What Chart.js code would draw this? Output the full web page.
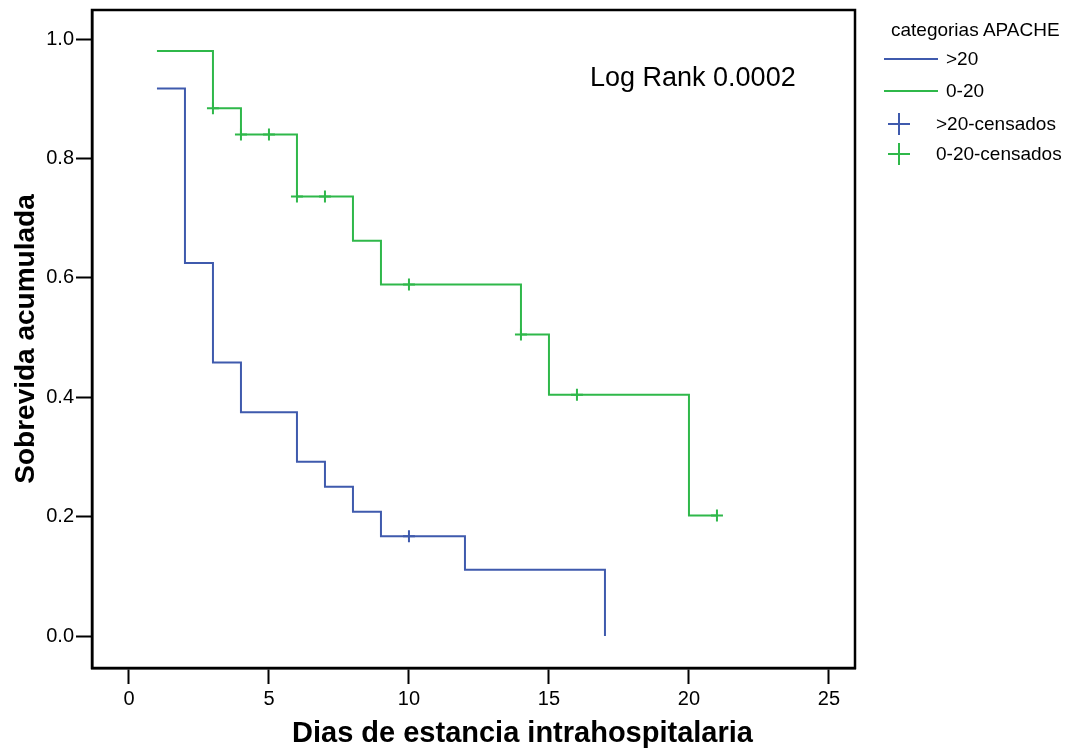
<!DOCTYPE html>
<html>
<head>
<meta charset="utf-8">
<script src="https://cdn.jsdelivr.net/npm/chart.js@4/dist/chart.umd.min.js"></script>
<style>
  body { margin: 0; background: #fff; }
  #wrap { position: relative; width: 1076px; height: 750px; font-family: "Liberation Sans", Arial, sans-serif; }
  #legend { position: absolute; left: 0; top: 0; font-size: 19px; color: #000; }
  .row { position: absolute; white-space: nowrap; line-height: 22px; }
  .ln { position: absolute; height: 2px; }
  #logrank { position: absolute; left: 590px; top: 62px; font-size: 27px; line-height: 31px; color: #000; white-space: nowrap; }
  #xtitle { position: absolute; left: 292px; width: 400px; top: 715px; text-align: center; font-size: 29px; line-height: 34px; font-weight: bold; color: #000; white-space: nowrap; }
</style>
</head>
<body>
<div id="wrap">
  <canvas id="kmChart" width="1076" height="750"></canvas>
  <div id="logrank">Log Rank 0.0002</div>
  <div id="xtitle">Dias de estancia intrahospitalaria</div>
  <div id="legend"></div>
</div>
<script>
// Kaplan-Meier survival by APACHE category
const xTicks = [0, 5, 10, 15, 20, 25];
const yTicks = [0, 0.2, 0.4, 0.6, 0.8, 1.0];

// >20 group
const timesAlto = [1, 2, 3, 4, 6, 7, 8, 9, 12, 17];
const survAlto = [0.917, 0.625, 0.458, 0.375, 0.292, 0.25, 0.208, 0.167, 0.111, 0.0];
const censTimesAlto = [10];
const censSurvAlto = [0.167];

// 0-20 group
const timesBajo = [1, 3, 4, 6, 8, 9, 14, 15, 20, 21];
const survBajo = [0.980, 0.884, 0.840, 0.736, 0.662, 0.589, 0.505, 0.404, 0.202, 0.202];
const censTimesBajo = [3, 4, 5, 6, 7, 10, 14, 16, 21];
const censSurvBajo = [0.884, 0.840, 0.840, 0.736, 0.736, 0.589, 0.505, 0.404, 0.202];

const blue = '#3f5aad';
const green = '#2fb84a';

function pts(xs, ys) {
    return xs.map((x, i) => ({ x: x, y: ys[i] }));
}

// draw the top and right sides of the frame
const frame = {
    id: 'frame',
    afterDraw(chart) {
        const a = chart.chartArea;
        const ctx = chart.ctx;
        ctx.save();
        ctx.strokeStyle = '#000';
        ctx.lineWidth = 2.5;
        ctx.strokeRect(a.left, a.top, a.right - a.left, a.bottom - a.top);
        ctx.restore();
    }
};

const ctx = document.getElementById('kmChart').getContext('2d');
new Chart(ctx, {
    type: 'line',
    data: {
        datasets: [
            { label: '>20', data: pts(timesAlto, survAlto), borderColor: blue, borderWidth: 2, stepped: 'before', pointRadius: 0, fill: false },
            { label: '0-20', data: pts(timesBajo, survBajo), borderColor: green, borderWidth: 2, stepped: 'before', pointRadius: 0, fill: false },
            { label: '>20-censados', type: 'scatter', data: pts(censTimesAlto, censSurvAlto), pointStyle: 'cross', pointRadius: 6, borderColor: blue, borderWidth: 2, showLine: false },
            { label: '0-20-censados', type: 'scatter', data: pts(censTimesBajo, censSurvBajo), pointStyle: 'cross', pointRadius: 6, borderColor: green, borderWidth: 2, showLine: false }
        ]
    },
    options: {
        responsive: false,
        animation: false,
        layout: { padding: { left: 0, right: 221, top: 10, bottom: 0 } },
        plugins: { legend: { display: false }, tooltip: { enabled: false } },
        scales: {
            x: {
                type: 'linear',
                min: -1.32,
                max: 25.93,
                afterBuildTicks: (s) => { s.ticks = xTicks.map(v => ({ value: v })); },
                afterFit: (s) => { s.height = 82; s.paddingLeft = 0; s.paddingRight = 0; },
                grid: { display: true, drawOnChartArea: false, drawTicks: true, tickLength: 16, tickColor: '#000', tickWidth: 2 },
                border: { display: true, color: '#000', width: 2.5 },
                ticks: { color: '#000', font: { family: 'Liberation Sans', size: 20 }, padding: 3, maxRotation: 0 },
                title: { display: false }
            },
            y: {
                type: 'linear',
                min: -0.0536,
                max: 1.0486,
                afterBuildTicks: (s) => { s.ticks = yTicks.map(v => ({ value: v })); },
                afterFit: (s) => { s.width = 92; s.paddingTop = 0; s.paddingBottom = 0; },
                grid: { display: true, drawOnChartArea: false, drawTicks: true, tickLength: 16, tickColor: '#000', tickWidth: 2 },
                border: { display: true, color: '#000', width: 2.5 },
                ticks: { color: '#000', font: { family: 'Liberation Sans', size: 20 }, padding: 2, callback: (v) => v.toFixed(1) },
                title: { display: true, text: 'Sobrevida acumulada', color: '#000', font: { family: 'Liberation Sans', size: 28, weight: 'bold' }, padding: { top: 9, bottom: 0 } }
            }
        }
    },
    plugins: [frame]
});

// legend on the right side
const legendItems = [
    { text: '>20', color: blue, kind: 'line', y: 59 },
    { text: '0-20', color: green, kind: 'line', y: 91 },
    { text: '>20-censados', color: blue, kind: 'cross', y: 124 },
    { text: '0-20-censados', color: green, kind: 'cross', y: 154 }
];
const legendEl = document.getElementById('legend');
const head = document.createElement('div');
head.className = 'row';
head.style.left = '891px';
head.style.top = '19px';
head.textContent = 'categorias APACHE';
legendEl.appendChild(head);
legendItems.forEach((item) => {
    const y = item.y;
    if (item.kind === 'line') {
        const ln = document.createElement('div');
        ln.className = 'ln';
        ln.style.left = '884px';
        ln.style.top = (y - 1) + 'px';
        ln.style.width = '54px';
        ln.style.background = item.color;
        legendEl.appendChild(ln);
    } else {
        const h = document.createElement('div');
        h.className = 'ln';
        h.style.left = '888px';
        h.style.top = (y - 1) + 'px';
        h.style.width = '22px';
        h.style.background = item.color;
        const v = document.createElement('div');
        v.className = 'ln';
        v.style.left = '898px';
        v.style.top = (y - 11) + 'px';
        v.style.width = '2px';
        v.style.height = '22px';
        v.style.background = item.color;
        legendEl.appendChild(h);
        legendEl.appendChild(v);
    }
    const t = document.createElement('div');
    t.className = 'row';
    t.style.left = (item.kind === 'line' ? 946 : 936) + 'px';
    t.style.top = (y - 11) + 'px';
    t.textContent = item.text;
    legendEl.appendChild(t);
});
</script>
</body>
</html>
